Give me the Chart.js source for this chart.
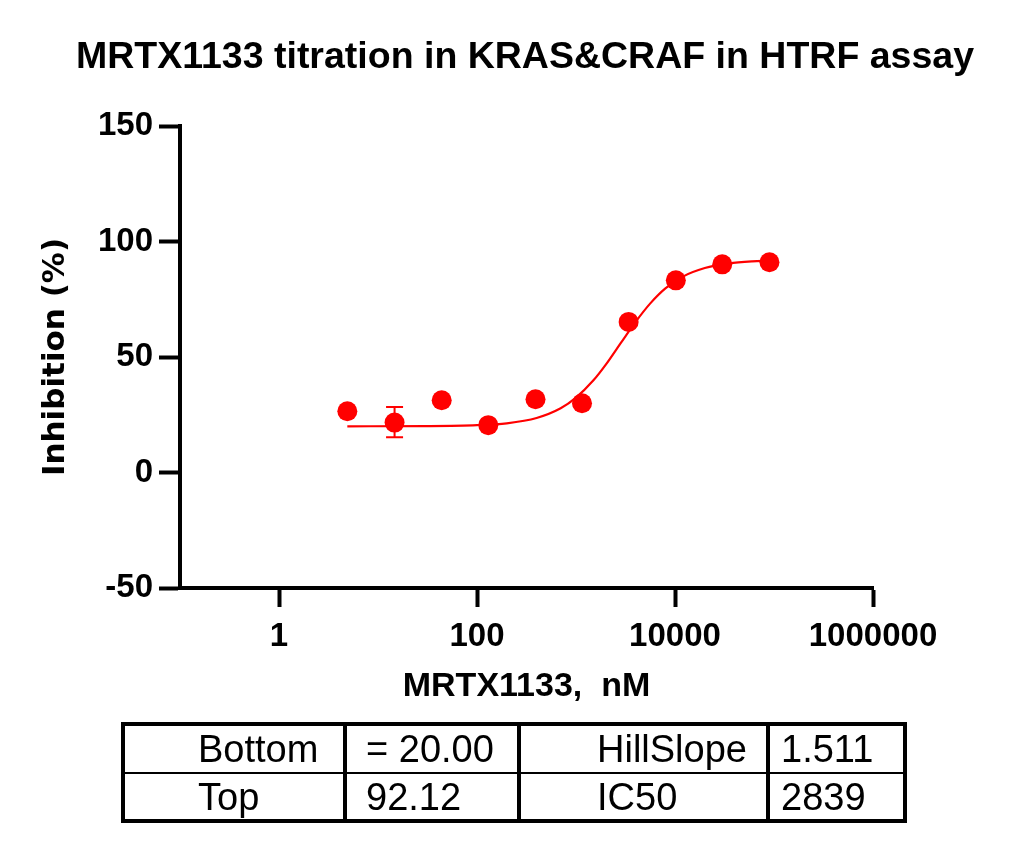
<!DOCTYPE html>
<html>
<head>
<meta charset="utf-8">
<script src="https://cdn.jsdelivr.net/npm/chart.js@4.4.1/dist/chart.umd.min.js"></script>
<style>
body { margin: 0; background: #fff; }
#wrap { position: relative; width: 1014px; height: 846px; }
#myChart { position: absolute; left: 0; top: 0; }
#title {
    position: absolute; left: 36px; top: 37px; width: 978px;
    text-align: center; font: bold 37.5px "Liberation Sans", Arial, sans-serif; line-height: 37px;
}
#params {
    position: absolute; left: 121px; top: 722px;
    border-collapse: collapse; table-layout: fixed;
    border: 4px solid #000;
    font: 38px "Liberation Sans", Arial, sans-serif;
}
#params td {
    border-left: 4px solid #000; border-right: 4px solid #000;
    padding: 0; vertical-align: middle; white-space: nowrap; line-height: 1;
}
#params tr:first-child td { border-bottom: 2px solid #000; height: 46px; }
#params tr:last-child td { height: 45px; }
</style>
</head>
<body>
<div id="wrap">
    <canvas id="myChart" width="1014" height="846"></canvas>
    <div id="title">MRTX1133 titration in KRAS&amp;CRAF in HTRF assay</div>
    <table id="params">
        <colgroup>
            <col style="width:222px"><col style="width:174px"><col style="width:249px"><col style="width:137px">
        </colgroup>
        <tbody></tbody>
    </table>
</div>
<script>
// measured points (nM, % inhibition)
const doses = [4.9, 14.7, 44, 130, 390, 1150, 3400, 10200, 30000, 90000];
const inhibition = [26.5, 21.6, 31.3, 20.5, 31.7, 30.0, 65.2, 83.2, 90.1, 91.0];
const errLow = [null, 15.3, null, null, null, null, null, null, null, null];
const errHigh = [null, 28.4, null, null, null, null, null, null, null, null];

// fitted curve
const fitDoses = [4.9, 30, 100, 200, 400, 700, 1000, 1500, 2000, 2839, 4000, 5600, 8000, 12000, 20000, 35000, 60000, 90000];
const fitInhibition = [20.0, 20.1, 20.5, 21.3, 23.6, 27.8, 32.4, 39.9, 46.7, 56.1, 65.2, 73.1, 79.7, 84.8, 88.5, 90.5, 91.4, 91.7];

const xTicks = [1, 100, 10000, 1000000];

// fit parameter table
const leftNames = ['Bottom', 'Top'];
const leftValues = ['= 20.00', '92.12'];
const rightNames = ['HillSlope', 'IC50'];
const rightValues = ['1.511', '2839'];

const cellPad = [73, 19, 76, 11];
const tbody = document.querySelector('#params tbody');
leftNames.forEach((name, i) => {
    const tr = document.createElement('tr');
    [name, leftValues[i], rightNames[i], rightValues[i]].forEach((txt, c) => {
        const td = document.createElement('td');
        td.textContent = txt;
        td.style.paddingLeft = cellPad[c] + 'px';
        tr.appendChild(td);
    });
    tbody.appendChild(tr);
});

const errorBars = {
    id: 'errorBars',
    afterDatasetsDraw(chart) {
        const ctx = chart.ctx;
        const x = chart.scales.x;
        const y = chart.scales.y;
        ctx.save();
        ctx.strokeStyle = '#ff0000';
        ctx.lineWidth = 2;
        doses.forEach((d, i) => {
            if (errLow[i] == null) return;
            const px = x.getPixelForValue(d);
            const top = y.getPixelForValue(errHigh[i]);
            const bot = y.getPixelForValue(errLow[i]);
            ctx.beginPath();
            ctx.moveTo(px, top); ctx.lineTo(px, bot);
            ctx.moveTo(px - 8.5, top); ctx.lineTo(px + 8.5, top);
            ctx.moveTo(px - 8.5, bot); ctx.lineTo(px + 8.5, bot);
            ctx.stroke();
        });
        ctx.restore();
    }
};

const tickFont = { family: '"Liberation Sans", Arial, sans-serif', size: 33, weight: 'bold' };

new Chart(document.getElementById('myChart'), {
    type: 'scatter',
    data: {
        datasets: [{
            data: doses.map((d, i) => ({ x: d, y: inhibition[i] })),
            pointRadius: 10,
            pointBackgroundColor: '#ff0000',
            pointBorderWidth: 0,
            showLine: false
        }, {
            data: fitDoses.map((d, i) => ({ x: d, y: fitInhibition[i] })),
            showLine: true,
            pointRadius: 0,
            borderColor: '#ff0000',
            borderWidth: 2.2,
            cubicInterpolationMode: 'monotone'
        }]
    },
    options: {
        responsive: false,
        animation: false,
        layout: { padding: { left: 30, top: 126, right: 141, bottom: 138 } },
        plugins: { legend: { display: false }, tooltip: { enabled: false } },
        scales: {
            x: {
                type: 'logarithmic',
                min: 0.1,
                max: 1000000,
                afterFit(scale) { scale.height = 120; },
                afterBuildTicks(scale) { scale.ticks = xTicks.map(v => ({ value: v })); },
                ticks: {
                    color: '#000',
                    font: tickFont,
                    padding: 10,
                    maxRotation: 0,
                    autoSkip: false,
                    callback: v => String(v)
                },
                grid: { drawOnChartArea: false, drawTicks: true, tickLength: 19, tickWidth: 4, tickColor: '#000' },
                border: { display: true, width: 4, color: '#000' },
                title: {
                    display: true,
                    text: 'MRTX1133,  nM',
                    color: '#000',
                    font: { family: '"Liberation Sans", Arial, sans-serif', size: 34, weight: 'bold' },
                    padding: { top: 0, bottom: 1 }
                }
            },
            y: {
                min: -50,
                max: 150,
                afterFit(scale) { scale.width = 150; },
                ticks: { stepSize: 50, color: '#000', font: tickFont, padding: 6 },
                grid: { drawOnChartArea: false, drawTicks: true, tickLength: 21, tickWidth: 4, tickColor: '#000' },
                border: { display: true, width: 4, color: '#000' },
                title: {
                    display: true,
                    text: 'Inhibition (%)',
                    color: '#000',
                    font: { family: '"DejaVu Sans", sans-serif', size: 31, weight: 'bold' },
                    padding: { top: 7, bottom: 0 }
                }
            }
        }
    },
    plugins: [errorBars]
});
</script>
</body>
</html>
